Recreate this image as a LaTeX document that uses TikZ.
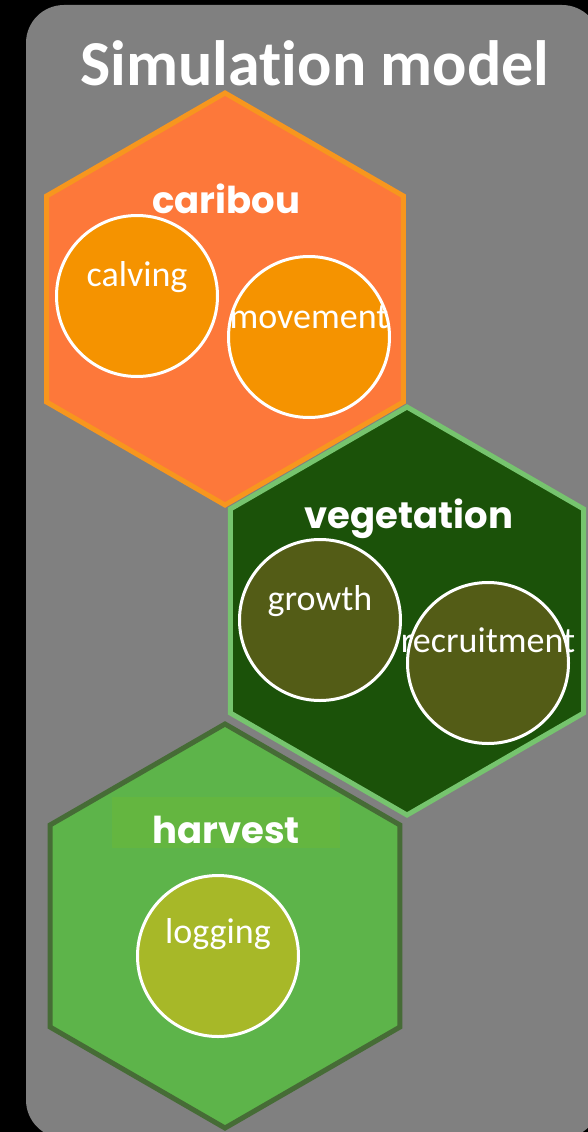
\documentclass[tikz,border=0pt]{standalone}
\usepackage{fontspec}
\setmainfont{Carlito}[Ligatures=CommonOff]
\newfontfamily\hexfont{Poppins}
\usetikzlibrary{shapes.geometric,positioning}

\definecolor{panelgray}{RGB}{128,128,128}
\definecolor{caribouFill}{RGB}{253,120,58}
\definecolor{caribouLine}{RGB}{247,150,30}
\definecolor{caribouDot}{RGB}{245,147,0}
\definecolor{vegFill}{RGB}{27,82,9}
\definecolor{vegLine}{RGB}{118,196,110}
\definecolor{vegDot}{RGB}{83,92,22}
\definecolor{harvFill}{RGB}{93,180,74}
\definecolor{harvLine}{RGB}{70,108,54}
\definecolor{harvBar}{RGB}{100,182,64}
\definecolor{harvDot}{RGB}{167,184,40}

\begin{document}
\begin{tikzpicture}[x=1pt,y=-1pt,
  hexagon/.style={regular polygon, regular polygon sides=6, shape border rotate=90,
    inner sep=0pt, minimum size=#1, line width=5pt},
  process/.style={circle, draw=white, line width=3pt, minimum size=161pt, inner sep=0pt},
  proctext/.style={anchor=base, text=white, inner sep=0pt, font=\fontsize{36}{40}\selectfont},
  hextitle/.style={anchor=base, text=white, inner sep=0pt, font=\hexfont\bfseries\fontsize{37}{40}\selectfont}]

% Background and panel
\fill[black] (0,0) rectangle (588,1132);
\useasboundingbox (0,0) rectangle (588,1132);
\fill[panelgray, rounded corners=38pt] (26,5) rectangle (600,1138);
\node[anchor=base, text=white, inner sep=0pt, font=\bfseries\fontsize{64}{68}\selectfont] (title) at (315,85) {Simulation model};

% Caribou
\node[hexagon=412pt, fill=caribouFill, draw=caribouLine] (caribou) at (225,299) {};
\node[process, fill=caribouDot] (calving) at (137,296) {};
\node[process, fill=caribouDot] (movement) at (309,337) {};
\node[proctext] (calvingtext) at ([yshift=10pt]calving.center) {calving};
\node[proctext] (movementtext) at ([yshift=9pt]movement.center) {movement};
\node[hextitle] (caribtitle) at (226,213) {caribou};

% Vegetation
\node[hexagon=408pt, fill=vegFill, draw=vegLine] (vegetation) at (407,611) {};
\node[process, fill=vegDot] (growth) at (320,620) {};
\node[process, fill=vegDot] (recruitment) at (488,663) {};
\node[proctext] (growthtext) at ([yshift=10pt]growth.center) {growth};
\node[proctext] (recruitmenttext) at ([yshift=11pt]recruitment.center) {recruitment};
\node[hextitle] (vegtitle) at (409,528) {vegetation};

% Harvest
\node[hexagon=404pt, fill=harvFill, draw=harvLine] (harvest) at (225,926) {};
\node[fill=harvBar, minimum width=228pt, minimum height=51pt, inner sep=0pt] (harvbar) at (226,822) {};
\node[process, fill=harvDot] (logging) at (218,956) {};
\node[proctext] (loggingtext) at ([yshift=13pt]logging.center) {logging};
\node[hextitle] (harvtitle) at (226,843) {harvest};

\end{tikzpicture}
\end{document}
